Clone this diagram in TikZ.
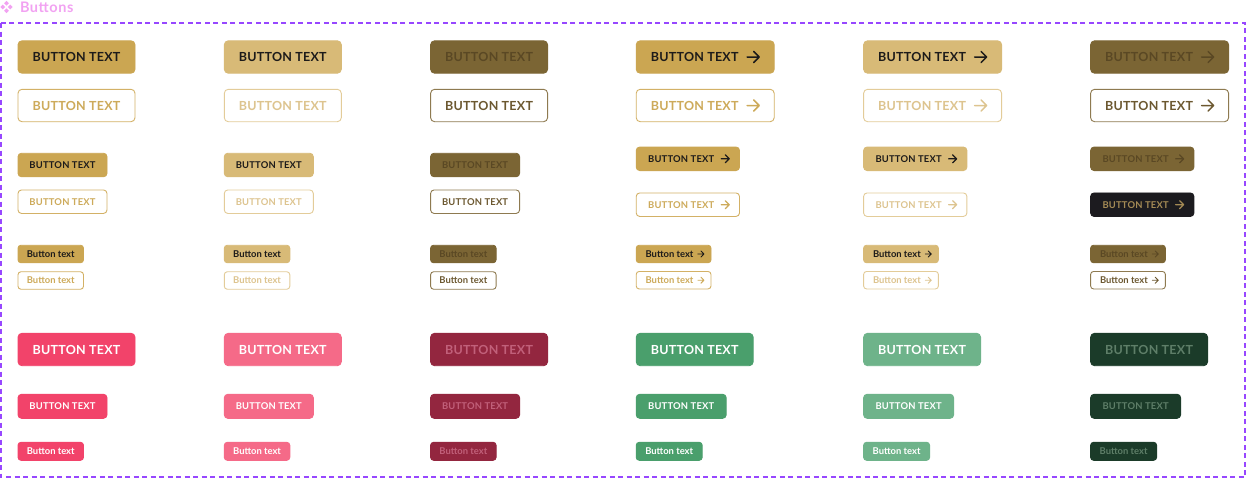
\documentclass[tikz,border=0pt]{standalone}
\usepackage{fontspec}
\usetikzlibrary{calc}
\newfontfamily\latoCaps[LetterSpace=2]{Lato}
\newfontfamily\latoTitle[LetterSpace=4]{Lato}
\newfontfamily\lato{Lato}
\newcommand\fL{\latoCaps\bfseries\fontsize{12.5}{15}\selectfont}
\newcommand\fM{\latoCaps\bfseries\fontsize{9.4}{11}\selectfont}
\newcommand\fS{\lato\bfseries\fontsize{9.4}{11}\selectfont}
\definecolor{gold}{HTML}{CBA652}
\definecolor{goldL}{HTML}{D8BA77}
\definecolor{goldD}{HTML}{7B6534}
\definecolor{goldDT}{HTML}{5A4824}
\definecolor{ink}{HTML}{1D1B1A}
\definecolor{goldOB}{HTML}{D3B166}
\definecolor{goldOT}{HTML}{CDAA5A}
\definecolor{goldLOB}{HTML}{E3CC99}
\definecolor{goldLOT}{HTML}{DDC48F}
\definecolor{goldDOB}{HTML}{8E7A50}
\definecolor{goldDOT}{HTML}{6C5830}
\definecolor{darkF}{HTML}{1C1B1F}
\definecolor{darkT}{HTML}{A58B55}
\definecolor{red1}{HTML}{F2436A}
\definecolor{redL}{HTML}{F56A88}
\definecolor{redD}{HTML}{93263F}
\definecolor{redDT}{HTML}{C1607A}
\definecolor{grn}{HTML}{4A9F6C}
\definecolor{grnL}{HTML}{6EB38A}
\definecolor{grnD}{HTML}{1B3B29}
\definecolor{grnDT}{HTML}{5E7E68}
\definecolor{framePurple}{HTML}{9747FF}
\definecolor{pinkT}{HTML}{F2A2F2}
\tikzset{
  every node/.style={inner sep=0pt, outer sep=0pt},
  btn/.style={rectangle, rounded corners=4pt, line width=0.9pt, anchor=west},
  szL/.style={btn, minimum width=117pt, minimum height=32.4pt, font=\fL},
  szM/.style={btn, minimum width=89pt, minimum height=23.5pt, font=\fM, rounded corners=3.5pt},
  szS/.style={btn, minimum width=65.5pt, minimum height=17.5pt, font=\fS, rounded corners=3pt},
  gP/.style={fill=gold, draw=gold, text=ink},
  gPo/.style={fill=white, draw=goldOB, text=goldOT},
  gH/.style={fill=goldL, draw=goldL, text=ink},
  gHo/.style={fill=white, draw=goldLOB, text=goldLOT},
  gD/.style={fill=goldD, draw=goldD, text=goldDT},
  gDo/.style={fill=white, draw=goldDOB, text=goldDOT},
  dk/.style={fill=darkF, draw=darkF, text=darkT},
  rP/.style={fill=red1, draw=red1, text=white},
  rH/.style={fill=redL, draw=redL, text=white},
  rD/.style={fill=redD, draw=redD, text=redDT},
  grP/.style={fill=grn, draw=grn, text=white},
  grH/.style={fill=grnL, draw=grnL, text=white},
  grD/.style={fill=grnD, draw=grnD, text=grnDT},
  arr/.style={line cap=round, line join=round},
  frameline/.style={draw=framePurple, line width=1.6pt, dash pattern=on 5pt off 3.5pt},
}
\newcommand\arbL[4]{%
  \node[szL, minimum width=138pt, #3] (#1) at #2 {};
  \node[font=\fL, text=#4] (#1t) at ($(#1.west)+(58.5,0)$) {BUTTON TEXT};
  \draw[arr, draw=#4, line width=1.5pt] ($(#1.west)+(111,0)$) -- ++(12,0) ++(-5.5,-5.5) -- ++(5.5,5.5) -- ++(-5.5,5.5);
}
\newcommand\arbM[4]{%
  \node[szM, minimum width=103.3pt, #3] (#1) at #2 {};
  \node[font=\fM, text=#4] (#1t) at ($(#1.west)+(45,0)$) {BUTTON TEXT};
  \draw[arr, draw=#4, line width=1.2pt] ($(#1.west)+(85,0)$) -- ++(8,0) ++(-4,-4) -- ++(4,4) -- ++(-4,4);
}
\newcommand\arbS[4]{%
  \node[szS, minimum width=74.8pt, #3] (#1) at #2 {};
  \node[font=\fS, text=#4] (#1t) at ($(#1.west)+(33.3,0)$) {Button text};
  \draw[arr, draw=#4, line width=0.9pt] ($(#1.west)+(61.7,0)$) -- ++(6,0) ++(-3,-3) -- ++(3,3) -- ++(-3,3);
}
\begin{document}
\begin{tikzpicture}[x=1pt, y=-1pt]
\useasboundingbox (0,0) rectangle (1247,479);
\fill[white] (0,0) rectangle (1247,479);
% title
\foreach \cx/\cy in {6.5/3.3, 2.8/7, 10.2/7, 6.5/10.7}
  \fill[pinkT] (\cx,\cy-2.4) -- (\cx+2.4,\cy) -- (\cx,\cy+2.4) -- (\cx-2.4,\cy) -- cycle;
\node[font=\latoTitle\bfseries\fontsize{14.5}{16}\selectfont, text=pinkT, anchor=west] (title) at (20,7) {Buttons};
% frame
\draw[frameline] (1,23) rectangle (1245,477);
% gold plain columns
\node[szL, gP] (a1) at (18,57) {BUTTON TEXT};
\node[szL, gPo] (a2) at (18,105.5) {BUTTON TEXT};
\node[szM, gP] (a3) at (18,165) {BUTTON TEXT};
\node[szM, gPo] (a4) at (18,201.7) {BUTTON TEXT};
\node[szS, gP] (a5) at (18,254) {Button text};
\node[szS, gPo] (a6) at (18,280.5) {Button text};
\node[szL, gH] (b1) at (224.3,57) {BUTTON TEXT};
\node[szL, gHo] (b2) at (224.3,105.5) {BUTTON TEXT};
\node[szM, gH] (b3) at (224.3,165) {BUTTON TEXT};
\node[szM, gHo] (b4) at (224.3,201.7) {BUTTON TEXT};
\node[szS, gH] (b5) at (224.3,254) {Button text};
\node[szS, gHo] (b6) at (224.3,280.5) {Button text};
\node[szL, gD] (c1) at (430.6,57) {BUTTON TEXT};
\node[szL, gDo] (c2) at (430.6,105.5) {BUTTON TEXT};
\node[szM, gD] (c3) at (430.6,165) {BUTTON TEXT};
\node[szM, gDo] (c4) at (430.6,201.7) {BUTTON TEXT};
\node[szS, gD] (c5) at (430.6,254) {Button text};
\node[szS, gDo] (c6) at (430.6,280.5) {Button text};
% gold arrow columns
\arbL{d1}{(636.2,57)}{gP}{ink}
\arbL{d2}{(636.2,105.5)}{gPo}{goldOT}
\arbM{d3}{(636.2,158.8)}{gP}{ink}
\arbM{d4}{(636.2,204.7)}{gPo}{goldOT}
\arbS{d5}{(636.2,254)}{gP}{ink}
\arbS{d6}{(636.2,280.2)}{gPo}{goldOT}
\arbL{e1}{(863.6,57)}{gH}{ink}
\arbL{e2}{(863.6,105.5)}{gHo}{goldLOT}
\arbM{e3}{(863.6,158.8)}{gH}{ink}
\arbM{e4}{(863.6,204.7)}{gHo}{goldLOT}
\arbS{e5}{(863.6,254)}{gH}{ink}
\arbS{e6}{(863.6,280.2)}{gHo}{goldLOT}
\arbL{f1}{(1090.6,57)}{gD}{goldDT}
\arbL{f2}{(1090.6,105.5)}{gDo}{goldDOT}
\arbM{f3}{(1090.6,158.8)}{gD}{goldDT}
\arbM{f4}{(1090.6,204.7)}{dk}{darkT}
\arbS{f5}{(1090.6,254)}{gD}{goldDT}
\arbS{f6}{(1090.6,280.2)}{gDo}{goldDOT}
% red
\node[szL, rP] (a7) at (18,349.5) {BUTTON TEXT};
\node[szM, rP, minimum height=24pt] (a8) at (18,406.3) {BUTTON TEXT};
\node[szS, rP, minimum height=18pt] (a9) at (18,451.3) {Button text};
\node[szL, rH] (b7) at (224.3,349.5) {BUTTON TEXT};
\node[szM, rH, minimum height=24pt] (b8) at (224.3,406.3) {BUTTON TEXT};
\node[szS, rH, minimum height=18pt] (b9) at (224.3,451.3) {Button text};
\node[szL, rD] (c7) at (430.6,349.5) {BUTTON TEXT};
\node[szM, rD, minimum height=24pt] (c8) at (430.6,406.3) {BUTTON TEXT};
\node[szS, rD, minimum height=18pt] (c9) at (430.6,451.3) {Button text};
% green
\node[szL, grP] (d7) at (636.2,349.5) {BUTTON TEXT};
\node[szM, grP, minimum height=24pt, minimum width=90pt] (d8) at (636.2,406.3) {BUTTON TEXT};
\node[szS, grP, minimum height=18pt, minimum width=66pt] (d9) at (636.2,451.3) {Button text};
\node[szL, grH] (e7) at (863.6,349.5) {BUTTON TEXT};
\node[szM, grH, minimum height=24pt, minimum width=90pt] (e8) at (863.6,406.3) {BUTTON TEXT};
\node[szS, grH, minimum height=18pt, minimum width=66pt] (e9) at (863.6,451.3) {Button text};
\node[szL, grD] (f7) at (1090.6,349.5) {BUTTON TEXT};
\node[szM, grD, minimum height=24pt, minimum width=90pt] (f8) at (1090.6,406.3) {BUTTON TEXT};
\node[szS, grD, minimum height=18pt, minimum width=66pt] (f9) at (1090.6,451.3) {Button text};
\end{tikzpicture}
\end{document}
